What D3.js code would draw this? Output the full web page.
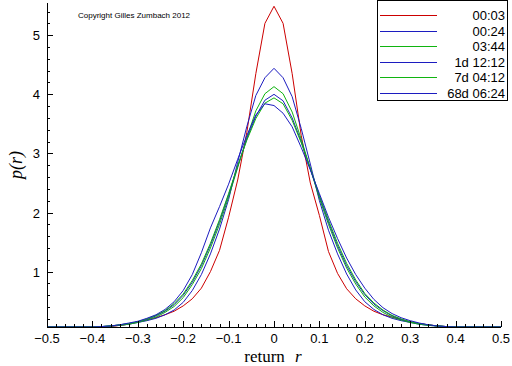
<!DOCTYPE html>
<html>
<head>
<meta charset="utf-8">
<script src="https://cdn.jsdelivr.net/npm/d3@7"></script>
<style>
  body { margin: 0; background: #fff; }
  svg { display: block; }
</style>
</head>
<body>
<div id="chart"></div>
<script>
// returns r, sampled every 0.02 from -0.5 to 0.5
const returns = d3.range(51).map(i => +(-0.5 + i * 0.02).toFixed(2));

const seriesNames = ["00:03", "00:24", "03:44", "1d 12:12", "7d 04:12", "68d 06:24"];
const seriesColors = ["#cc0000", "#1c1cc0", "#10b410", "#1c1cc0", "#10b410", "#1c1cc0"];

const p0003 = [0.02, 0.02, 0.03, 0.03, 0.04, 0.05, 0.06, 0.07, 0.09, 0.11, 0.15, 0.18, 0.22, 0.27, 0.33, 0.42, 0.54, 0.72, 1.00, 1.36, 1.92, 2.55, 3.35, 4.35, 5.20,
               5.49,
               5.20, 4.35, 3.30, 2.50, 1.95, 1.34, 0.97, 0.71, 0.54, 0.42, 0.33, 0.27, 0.23, 0.19, 0.15, 0.12, 0.10, 0.08, 0.07, 0.06, 0.05, 0.04, 0.03, 0.03, 0.02];
const p0024 = [0.03, 0.04, 0.04, 0.05, 0.05, 0.06, 0.07, 0.08, 0.09, 0.11, 0.14, 0.17, 0.21, 0.27, 0.35, 0.48, 0.68, 0.95, 1.30, 1.72, 2.22, 2.85, 3.45, 3.98, 4.28,
               4.44,
               4.28, 3.96, 3.42, 2.82, 2.20, 1.70, 1.30, 0.96, 0.69, 0.49, 0.36, 0.27, 0.21, 0.17, 0.14, 0.11, 0.09, 0.08, 0.07, 0.06, 0.05, 0.05, 0.04, 0.04, 0.03];
const p0344 = [0.03, 0.04, 0.04, 0.05, 0.05, 0.06, 0.07, 0.08, 0.09, 0.11, 0.14, 0.18, 0.23, 0.31, 0.41, 0.56, 0.78, 1.05, 1.40, 1.80, 2.26, 2.76, 3.26, 3.72, 4.01,
               4.13,
               4.01, 3.70, 3.24, 2.74, 2.24, 1.80, 1.40, 1.06, 0.79, 0.57, 0.42, 0.31, 0.23, 0.18, 0.14, 0.11, 0.09, 0.08, 0.07, 0.06, 0.05, 0.05, 0.04, 0.04, 0.03];
const p1d = [0.03, 0.04, 0.04, 0.05, 0.05, 0.06, 0.07, 0.08, 0.10, 0.12, 0.15, 0.19, 0.25, 0.33, 0.44, 0.60, 0.82, 1.10, 1.45, 1.85, 2.30, 2.78, 3.24, 3.63, 3.90,
             4.00,
             3.89, 3.60, 3.20, 2.74, 2.27, 1.84, 1.44, 1.10, 0.83, 0.61, 0.45, 0.34, 0.25, 0.19, 0.15, 0.12, 0.10, 0.08, 0.07, 0.06, 0.05, 0.05, 0.04, 0.04, 0.03];
const p7d = [0.03, 0.04, 0.04, 0.05, 0.05, 0.06, 0.07, 0.08, 0.10, 0.12, 0.15, 0.20, 0.26, 0.34, 0.46, 0.62, 0.85, 1.13, 1.48, 1.88, 2.32, 2.79, 3.22, 3.59, 3.85,
             3.94,
             3.84, 3.56, 3.18, 2.75, 2.29, 1.87, 1.48, 1.14, 0.86, 0.63, 0.47, 0.35, 0.26, 0.20, 0.15, 0.12, 0.10, 0.08, 0.07, 0.06, 0.05, 0.05, 0.04, 0.04, 0.03];
const p68d = [0.03, 0.04, 0.04, 0.05, 0.05, 0.06, 0.07, 0.08, 0.10, 0.13, 0.16, 0.21, 0.27, 0.36, 0.49, 0.68, 0.95, 1.32, 1.74, 2.10, 2.48, 2.90, 3.30, 3.65, 3.84,
              3.81,
              3.68, 3.45, 3.10, 2.72, 2.32, 1.92, 1.56, 1.23, 0.95, 0.72, 0.53, 0.39, 0.29, 0.22, 0.17, 0.13, 0.10, 0.08, 0.07, 0.06, 0.05, 0.05, 0.04, 0.04, 0.03];

const seriesValues = [p0003, p0024, p0344, p1d, p7d, p68d];

const xTicks = [-0.5, -0.4, -0.3, -0.2, -0.1, 0, 0.1, 0.2, 0.3, 0.4, 0.5];
const yTicks = [1, 2, 3, 4, 5];

const width = 512, height = 366;
const margin = { top: 3, right: 11, bottom: 39, left: 47 };

const svg = d3.select("#chart").append("svg")
    .attr("width", width)
    .attr("height", height);

const x = d3.scaleLinear()
    .domain([-0.5, 0.5])
    .range([margin.left, width - margin.right]);

const y = d3.scaleLinear()
    .domain([0.063, 5.545])
    .range([height - margin.bottom, margin.top])
    .clamp(true);

const font = "'Liberation Sans', Arial, sans-serif";
const serif = "'Liberation Serif', 'Times New Roman', serif";

// curves
const line = d3.line()
    .x(d => x(d[0]))
    .y(d => y(d[1]));

seriesValues.forEach(function(vals, i) {
    svg.append("path")
        .datum(returns.map((r, j) => [r, vals[j]]))
        .attr("d", line)
        .attr("fill", "none")
        .attr("stroke", seriesColors[i])
        .attr("stroke-width", 1);
});

// x axis
const xMinor = d3.range(-0.5, 0.5001, 0.02).map(v => +v.toFixed(2));
const xAxisG = svg.append("g")
    .attr("transform", "translate(0," + y.range()[0] + ")");
xAxisG.append("line")
    .attr("x1", x(-0.5)).attr("x2", x(0.5))
    .attr("stroke", "#000").attr("shape-rendering", "crispEdges");
xAxisG.selectAll(".minor")
    .data(xMinor)
    .enter().append("line")
    .attr("x1", d => Math.round(x(d)) + 0.5).attr("x2", d => Math.round(x(d)) + 0.5)
    .attr("y1", 0)
    .attr("y2", d => xTicks.some(t => Math.abs(t - d) < 1e-6) ? -6 : -3)
    .attr("stroke", "#000").attr("shape-rendering", "crispEdges");
xAxisG.selectAll(".lbl")
    .data(xTicks)
    .enter().append("text")
    .attr("x", d => x(d))
    .attr("y", 16)
    .attr("text-anchor", "middle")
    .style("font-family", font)
    .style("font-size", "13px")
    .text(d => d3.format("")(d));

// y axis
const yMinor = d3.range(0.2, 5.401, 0.2).map(v => +v.toFixed(1));
const yAxisG = svg.append("g")
    .attr("transform", "translate(" + x(-0.5) + ",0)");
yAxisG.append("line")
    .attr("y1", y.range()[0]).attr("y2", y.range()[1])
    .attr("stroke", "#000").attr("shape-rendering", "crispEdges");
yAxisG.selectAll(".minor")
    .data(yMinor)
    .enter().append("line")
    .attr("y1", d => Math.round(y(d)) + 0.5).attr("y2", d => Math.round(y(d)) + 0.5)
    .attr("x1", 0)
    .attr("x2", d => Number.isInteger(d) ? 6 : 3)
    .attr("stroke", "#000").attr("shape-rendering", "crispEdges");
yAxisG.selectAll(".lbl")
    .data(yTicks)
    .enter().append("text")
    .attr("x", -7)
    .attr("y", d => y(d) + 5)
    .attr("text-anchor", "end")
    .style("font-family", font)
    .style("font-size", "13px")
    .text(d => d);

// axis titles
const xTitle = svg.append("text")
    .attr("x", 273)
    .attr("y", 362)
    .attr("text-anchor", "middle")
    .style("font-family", serif)
    .style("font-size", "17px");
xTitle.append("tspan").text("return ");
xTitle.append("tspan").style("font-style", "italic").attr("dx", 6).text("r");

const yTitle = svg.append("text")
    .attr("transform", "translate(22,165) rotate(-90)")
    .attr("text-anchor", "middle")
    .style("font-family", serif)
    .style("font-style", "italic")
    .style("font-size", "18px")
    .text("p(r)");

// copyright
svg.append("text")
    .attr("x", 78)
    .attr("y", 18)
    .style("font-family", font)
    .style("font-size", "8px")
    .text("Copyright Gilles Zumbach 2012");

// legend
const legend = svg.append("g");
legend.append("rect")
    .attr("x", 377.5).attr("y", 0.5)
    .attr("width", 130).attr("height", 100)
    .attr("fill", "#fff").attr("stroke", "#000")
    .attr("shape-rendering", "crispEdges");
seriesNames.forEach(function(name, i) {
    const ly = Math.round(15 + i * 15.6);
    legend.append("line")
        .attr("x1", 380).attr("x2", 437)
        .attr("y1", ly + 0.5).attr("y2", ly + 0.5)
        .attr("stroke", seriesColors[i])
        .attr("shape-rendering", "crispEdges");
    legend.append("text")
        .attr("x", 505)
        .attr("y", ly + 5)
        .attr("text-anchor", "end")
        .style("font-family", font)
        .style("font-size", "13px")
        .text(name);
});
</script>
</body>
</html>
